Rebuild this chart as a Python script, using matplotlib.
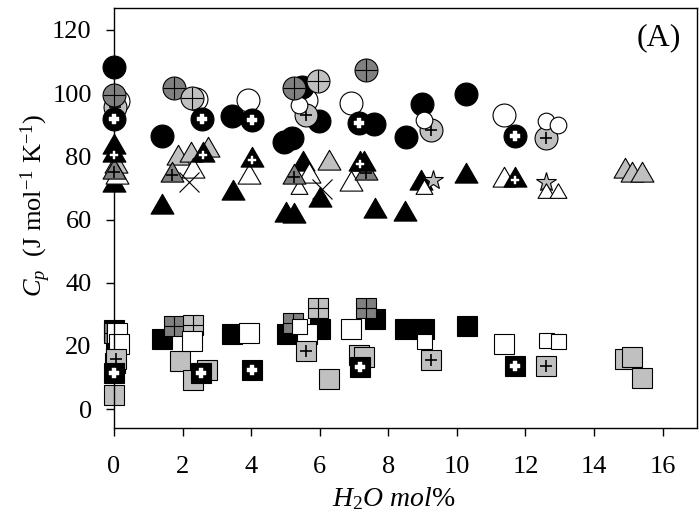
import matplotlib
matplotlib.use("Agg")
import matplotlib.pyplot as plt
from matplotlib.path import Path

plt.rcParams['font.family'] = ['Liberation Serif', 'DejaVu Serif']
plt.rcParams['mathtext.fontset'] = 'custom'
plt.rcParams['mathtext.rm'] = 'Liberation Serif'
plt.rcParams['mathtext.it'] = 'Liberation Serif:italic'

# ---- circles (upper band) ----
black_circ_x = [0.0, 1.40, 3.43, 5.18, 4.97, 5.47, 5.99, 7.59, 8.52, 8.99, 10.27]
black_circ_y = [108.2, 86.5, 92.8, 85.9, 84.6, 101.9, 91.2, 90.3, 86.2, 96.6, 99.7]
bcross_circ_x = [0.0, 2.56, 4.04, 7.15, 11.70]
bcross_circ_y = [91.8, 91.8, 91.5, 90.6, 86.5]
dgrid_circ_x = [0.0, 1.74, 5.26, 7.35]
dgrid_circ_y = [99.5, 101.5, 101.5, 107.2]
lgrid_circ_x = [2.27, 5.96]
lgrid_circ_y = [98.5, 103.8]
plus_circ_x = [0.02, 5.60, 9.25, 12.60]
plus_circ_y = [95.5, 93.0, 88.4, 85.9]
white_circ_x = [0.12, 2.40, 3.92, 5.60, 6.90, 11.37]
white_circ_y = [97.5, 98.0, 97.8, 97.8, 96.9, 93.1]
white_small_circ_x = [5.40, 9.05, 12.60, 12.95]
white_small_circ_y = [96.3, 91.5, 91.2, 89.9]

# ---- triangles (middle band) ----
black_tri_x = [0.0, 0.0, 1.40, 3.46, 5.03, 5.26, 5.50, 6.00, 7.60, 8.50, 8.95, 10.26, 7.30]
black_tri_y = [83.0, 71.0, 63.9, 68.3, 61.5, 61.1, 77.5, 66.1, 62.7, 61.7, 71.5, 73.9, 77.5]
bcross_tri_x = [0.0, 2.59, 4.04, 7.18, 11.70]
bcross_tri_y = [80.5, 80.3, 79.0, 77.7, 72.4]
plus_tri_x = [0.0, 1.70, 5.26, 7.35]
plus_tri_y = [75.0, 74.0, 73.6, 74.6]
light_tri_x = [0.05, 1.86, 2.25, 2.75, 6.28, 14.90, 15.10, 15.40]
light_tri_y = [77.0, 79.6, 80.5, 82.0, 78.0, 75.5, 74.0, 74.0]
white_tri_x = [0.10, 2.30, 3.93, 5.70, 6.92, 11.37]
white_tri_y = [73.5, 75.5, 73.6, 73.9, 71.2, 72.4]
white_small_tri_x = [5.40, 9.05, 12.60, 12.95]
white_small_tri_y = [69.6, 69.6, 68.3, 68.3]
star_x = [9.30, 12.60]
star_y = [72.4, 71.8]
cross_x = [2.20, 6.08]
cross_y = [71.8, 69.6]

# ---- squares (lower band) ----
black_sq_x = [0.0, 0.05, 1.40, 3.43, 5.06, 6.00, 7.60, 8.50, 9.05, 10.30]
black_sq_y = [25.0, 20.5, 22.2, 23.8, 23.8, 25.4, 28.5, 25.4, 25.4, 26.3]
bcross_sq_x = [0.0, 2.55, 4.04, 7.18, 11.70]
bcross_sq_y = [11.3, 11.3, 12.5, 13.2, 13.8]
dgrid_sq_x = [0.0, 1.74, 5.23, 7.35]
dgrid_sq_y = [24.0, 26.3, 27.3, 32.0]
lgrid_sq_x = [2.30, 5.96]
lgrid_sq_y = [26.6, 32.0]
plus_sq_x = [0.05, 5.60, 9.25, 12.60]
plus_sq_y = [16.0, 18.5, 15.7, 13.8]
light_sq_x = [0.0, 0.02, 1.92, 2.70, 2.30, 6.28, 7.15, 7.30, 14.90, 15.10, 15.40]
light_sq_y = [4.5, 14.5, 15.4, 12.5, 9.1, 9.7, 17.0, 16.5, 15.9, 16.6, 10.0]
white_sq_x = [0.10, 0.15, 2.27, 3.93, 5.64, 6.92, 11.37]
white_sq_y = [24.0, 20.5, 21.6, 24.1, 23.8, 25.4, 20.7]
white_small_sq_x = [5.40, 9.05, 12.60, 12.95]
white_small_sq_y = [26.3, 21.6, 21.9, 21.6]

x_ticks = [0, 2, 4, 6, 8, 10, 12, 14, 16]
y_ticks = [0, 20, 40, 60, 80, 100, 120]

DARK = '#808080'
LIGHT = '#c0c0c0'

# equilateral triangle with its centroid on the data point
TRI = Path([(0, 1), (-0.866, -0.5), (0.866, -0.5), (0, 1)],
           [Path.MOVETO, Path.LINETO, Path.LINETO, Path.CLOSEPOLY])

fig = plt.figure(figsize=(6.99, 5.19), dpi=100)
ax = fig.add_axes([0.163, 0.175, 0.834, 0.81])

zlevel = [2.0]


def series(xs, ys, marker, ms, face, inner=None, inner_ms=7):
    z = zlevel[0]
    ax.plot(xs, ys, ls='none', marker=marker, ms=ms, mfc=face, mec='black',
            mew=0.8, clip_on=False, zorder=z)
    if inner == 'white':
        ax.plot(xs, ys, ls='none', marker='P', ms=inner_ms, mfc='white',
                mec='white', mew=0.3, clip_on=False, zorder=z + 0.01)
    elif inner == 'plus':
        ax.plot(xs, ys, ls='none', marker='+', ms=inner_ms, mec='black',
                mew=1.2, clip_on=False, zorder=z + 0.01)
    elif inner == 'grid':
        ax.plot(xs, ys, ls='none', marker='+', ms=ms, mec='black',
                mew=0.8, clip_on=False, zorder=z + 0.01)
    zlevel[0] += 0.1


# squares
series(black_sq_x, black_sq_y, 's', 14.4, 'black')
series(light_sq_x, light_sq_y, 's', 14.4, LIGHT)
series(dgrid_sq_x, dgrid_sq_y, 's', 14.4, DARK, 'grid')
series(lgrid_sq_x, lgrid_sq_y, 's', 14.4, LIGHT, 'grid')
series(white_sq_x, white_sq_y, 's', 14.4, 'white')
series(white_small_sq_x, white_small_sq_y, 's', 10.8, 'white')
series(plus_sq_x, plus_sq_y, 's', 14.4, LIGHT, 'plus', 8)
series(bcross_sq_x, bcross_sq_y, 's', 14.4, 'black', 'white', 7)

# triangles
series(light_tri_x, light_tri_y, TRI, 19, LIGHT)
series(black_tri_x, black_tri_y, TRI, 19, 'black')
series(star_x, star_y, '*', 15, LIGHT)
series(white_tri_x, white_tri_y, TRI, 19, 'white')
series(white_small_tri_x, white_small_tri_y, TRI, 14, 'white')
series(plus_tri_x, plus_tri_y, TRI, 19, DARK, 'plus', 8)
series(bcross_tri_x, bcross_tri_y, TRI, 19, 'black', 'white', 6)
ax.plot(cross_x, cross_y, ls='none', marker='x', ms=14, mec='black', mew=0.8,
        clip_on=False, zorder=zlevel[0])
zlevel[0] += 0.1

# circles
series(white_circ_x, white_circ_y, 'o', 16.5, 'white')
series(black_circ_x, black_circ_y, 'o', 16.5, 'black')
series(plus_circ_x, plus_circ_y, 'o', 16.5, LIGHT, 'plus', 8)
series(white_small_circ_x, white_small_circ_y, 'o', 12, 'white')
series(dgrid_circ_x, dgrid_circ_y, 'o', 16.5, DARK, 'grid')
series(lgrid_circ_x, lgrid_circ_y, 'o', 16.5, LIGHT, 'grid')
series(bcross_circ_x, bcross_circ_y, 'o', 16.5, 'black', 'white', 7)

ax.set_xlim(0, 17)
ax.set_ylim(-6, 127)
ax.set_xticks(x_ticks)
ax.set_yticks(y_ticks)
ax.tick_params(direction='out', length=6, width=1, labelsize=19)
ax.tick_params(axis='x', pad=14)
ax.tick_params(axis='y', pad=10)
for sp in ax.spines.values():
    sp.set_linewidth(1)

ax.set_xlabel(r'$H_2O\ mol\%$', fontsize=20)
ax.xaxis.label.set_va('center')
ax.xaxis.set_label_coords(0.48, -0.167)
ax.set_ylabel(r'$C_p$  (J mol$^{\mathregular{-1}}$ K$^{\mathregular{-1}}$)',
              fontsize=19)
ax.yaxis.label.set_va('center')
ax.yaxis.set_label_coords(-0.135, 0.53)
ax.text(0.934, 0.929, '(A)', transform=ax.transAxes, fontsize=23,
        ha='center', va='center')

fig.savefig('out.png', dpi=100)
